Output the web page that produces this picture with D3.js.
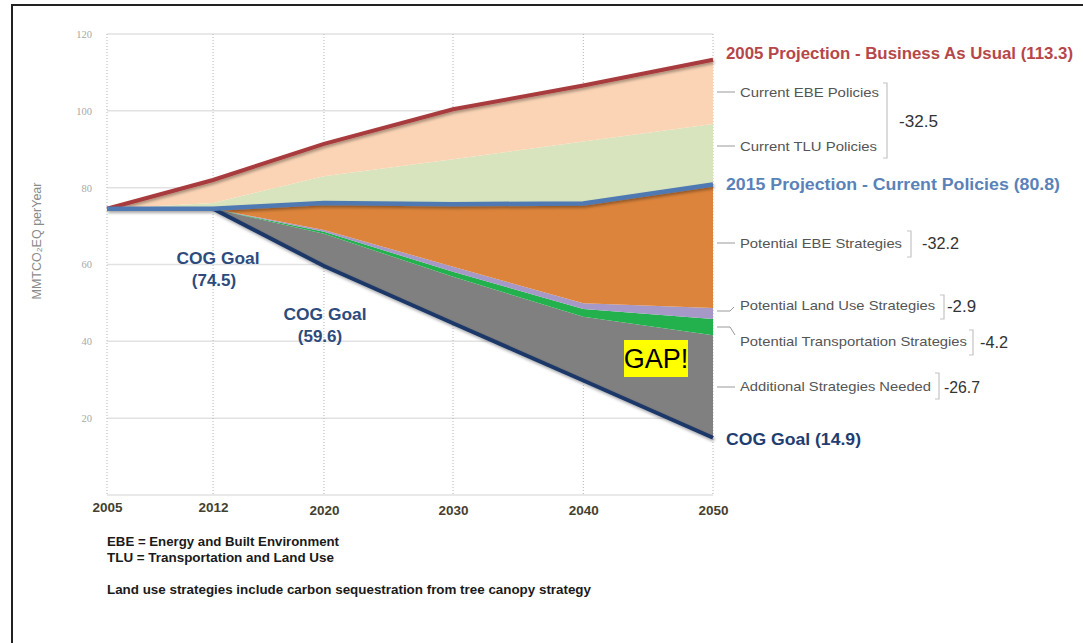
<!DOCTYPE html>
<html><head><meta charset="utf-8">
<script src="https://cdn.jsdelivr.net/npm/d3@7"></script>
<style>body{margin:0;background:#fff;} svg{display:block;}</style>
</head><body>
<svg id="c" width="1083" height="643"></svg>
<script>
// ---------- data ----------
const years = [2005, 2012, 2020, 2030, 2040, 2050];
const yearTickLabels = ["2005", "2012", "2020", "2030", "2040", "2050"];
const yTicks = [20, 40, 60, 80, 100, 120];

// lines
const businessAsUsual = [74.5, 82.0, 91.4, 100.4, 106.6, 113.3];
const currentPolicies = [74.5, 74.5, 76.0, 75.7, 75.9, 80.8];
const cogGoal = [null, 74.5, 59.6, 44.7, 29.8, 14.9];

// stacked wedges (reductions), bottom to top, starting from the COG goal
const additionalNeeded   = [0, 0, 8.4, 12.1, 16.6, 26.7];
const potentialTransport = [0, 0, 0.5, 1.3, 2.0, 4.2];
const potentialLandUse   = [0, 0, 0.5, 1.3, 1.5, 2.9];
const potentialEBE       = [0, 0, 7.0, 16.3, 26.0, 32.2];
const currentTLU         = [0, 1.5, 7.0, 11.7, 16.1, 15.7];
const currentEBE         = [0, 6.0, 8.4, 13.0, 14.6, 16.7];

const layerNames  = ["Additional Strategies Needed", "Potential Transportation Strategies", "Potential Land Use Strategies", "Potential EBE Strategies", "Current TLU Policies", "Current EBE Policies"];
const layerValues = [additionalNeeded, potentialTransport, potentialLandUse, potentialEBE, currentTLU, currentEBE];
const layerColors = ["#808080", "#22b14c", "#a698c7", "#dc843b", "#d8e4bd", "#fbd4b5"];

// ---------- layout ----------
const svg = d3.select("#c");
const L = 107, R = 713, T = 34, B = 495;
const xFrac = [0, 0.175, 0.358, 0.571, 0.786, 1];
const x = d3.scaleLinear().domain(years).range(xFrac.map(f => L + f * (R - L)));
const y = d3.scaleLinear().domain([0, 120]).range([B, T]);

// frame
svg.append("rect").attr("x", 12).attr("y", 5).attr("width", 1100).attr("height", 700)
  .attr("fill", "none").attr("stroke", "#222").attr("stroke-width", 2);

const defs = svg.append("defs");
const f = defs.append("filter").attr("id", "sh").attr("x", "-5%").attr("y", "-20%").attr("width", "110%").attr("height", "140%");
f.append("feDropShadow").attr("dx", 1).attr("dy", 2).attr("stdDeviation", 1.5).attr("flood-color", "#000").attr("flood-opacity", 0.35);

// gridlines
const grid = svg.append("g");
grid.selectAll(".hg").data([0].concat(yTicks)).join("line")
  .attr("x1", L).attr("x2", R).attr("y1", d => y(d)).attr("y2", d => y(d))
  .attr("stroke", "#e2e2e2").attr("stroke-width", 1.5);
grid.selectAll(".vg").data(years).join("line")
  .attr("x1", d => x(d)).attr("x2", d => x(d)).attr("y1", T).attr("y2", B)
  .attr("stroke", "#b5b5b5").attr("stroke-width", 1).attr("stroke-dasharray", "1,2");

// y axis labels
const yAxis = d3.axisLeft(y).tickValues(yTicks).tickSize(0).tickPadding(0);
const ya = svg.append("g").attr("transform", `translate(${92},0)`).call(yAxis);
ya.select(".domain").remove();
ya.selectAll("text").attr("fill", "#a8a8a8").attr("font-family", "Liberation Serif, serif").attr("font-size", 10.5);

svg.append("text").attr("transform", "translate(37,241) rotate(-90)")
  .attr("text-anchor", "middle").attr("dominant-baseline", "central").attr("fill", "#8a8a8a")
  .attr("font-family", "Liberation Sans, Arial, sans-serif").attr("font-size", 12.5)
  .text("MMTCO₂EQ perYear");

// x axis labels
const xAxis = d3.axisBottom(x).tickValues(years).tickFormat((d, i) => yearTickLabels[i]).tickSize(0).tickPadding(0);
const xa = svg.append("g").attr("transform", `translate(0,${B})`).call(xAxis);
xa.select(".domain").remove();
xa.selectAll("text").attr("fill", "#453f30").attr("font-family", "Liberation Sans Narrow, Liberation Sans, sans-serif")
  .attr("font-weight", "bold").attr("font-size", 13.5)
  .attr("y", (d, i) => i < 2 ? 12 : 15.5).attr("dy", 0).attr("dominant-baseline", "central");

// stacked areas
const base = years.map((yr, i) => cogGoal[i] != null ? cogGoal[i] : currentPolicies[i]);
let lower = base.slice();
const layers = layerValues.map(vals => {
  const lo = lower.slice();
  const hi = lo.map((v, i) => v + vals[i]);
  lower = hi;
  return years.map((yr, i) => ({ yr, lo: lo[i], hi: hi[i] }));
});
const area = d3.area().x(d => x(d.yr)).y0(d => y(d.lo)).y1(d => y(d.hi));
svg.append("g").selectAll("path").data(layers).join("path")
  .attr("d", area).attr("fill", (d, i) => layerColors[i]);

// lines
const line = d3.line().defined(d => d.v != null).x(d => x(d.yr)).y(d => y(d.v));
const toPts = arr => years.map((yr, i) => ({ yr, v: arr[i] }));
const lg = svg.append("g").attr("filter", "url(#sh)");
lg.append("path").attr("d", line(toPts(cogGoal))).attr("fill", "none").attr("stroke", "#1c3868").attr("stroke-width", 4);
lg.append("path").attr("d", line(toPts(businessAsUsual))).attr("fill", "none").attr("stroke", "#a83b3d").attr("stroke-width", 4);
lg.append("path").attr("d", line(toPts(currentPolicies))).attr("fill", "none").attr("stroke", "#4f79b2").attr("stroke-width", 4.5);

// ---------- annotations ----------
const SANS = "Liberation Sans, Arial, Helvetica, sans-serif";
function txt(xp, yp, s, opts) {
  const t = svg.append("text").attr("x", xp).attr("y", yp).attr("dominant-baseline", "central")
    .attr("font-family", opts.family || SANS).attr("font-size", opts.size || 13)
    .attr("font-weight", opts.weight || "normal").attr("fill", opts.fill || "#555")
    .attr("text-anchor", opts.anchor || "start").text(s);
  if (opts.len) t.attr("textLength", opts.len).attr("lengthAdjust", "spacingAndGlyphs");
  return t;
}
const lastIdx = years.length - 1;

txt(726, y(businessAsUsual[lastIdx]) - 6, "2005 Projection - Business As Usual (" + businessAsUsual[lastIdx] + ")", { size: 16, weight: 600, fill: "#b5474a", len: 347 });
txt(726, y(currentPolicies[lastIdx]), "2015 Projection - Current Policies (" + currentPolicies[lastIdx] + ")", { size: 16, weight: 600, fill: "#5a82b8", len: 334 });
txt(726, y(cogGoal[lastIdx]) + 2, "COG Goal (" + cogGoal[lastIdx] + ")", { size: 17, weight: 600, fill: "#1f3d70", len: 135 });

// left COG goal labels
txt(218, 258, "COG Goal", { size: 17, weight: 600, fill: "#2d4b7c", anchor: "middle", len: 83 });
txt(214, 280, "(" + cogGoal[1] + ")", { size: 17, weight: 600, fill: "#2d4b7c", anchor: "middle" });
txt(325, 314, "COG Goal", { size: 17, weight: 600, fill: "#2d4b7c", anchor: "middle", len: 83 });
txt(320, 336, "(" + cogGoal[2] + ")", { size: 17, weight: 600, fill: "#2d4b7c", anchor: "middle" });

// side labels with leaders
const sideLabels = [
  { name: "Current EBE Policies", y: 92, len: 139, leader: "M717,92H735" },
  { name: "Current TLU Policies", y: 146, len: 137, leader: "M717,146H735" },
  { name: "Potential EBE Strategies", y: 243, len: 162, leader: "M717,243H735" },
  { name: "Potential Land Use Strategies", y: 305, len: 195, leader: "M717,311H730L734,307" },
  { name: "Potential Transportation Strategies", y: 341, len: 227, leader: "M717,327H730L735,335" },
  { name: "Additional Strategies Needed", y: 386, len: 191, leader: "M717,387H735" }
];
sideLabels.forEach(s => {
  svg.append("path").attr("d", s.leader).attr("fill", "none").attr("stroke", "#9a9a9a").attr("stroke-width", 1);
  txt(740, s.y, s.name, { size: 13, fill: "#555", len: s.len });
});

// brackets + totals
const brackets = [
  { x: 887, y1: 83, y2: 158, label: "-32.5", lx: 899, ly: 121, len: 39 },
  { x: 911, y1: 231, y2: 257, label: "-" + potentialEBE[lastIdx], lx: 922, ly: 243, len: 37 },
  { x: 944, y1: 295, y2: 319, label: "-" + potentialLandUse[lastIdx], lx: 947, ly: 306, len: 29 },
  { x: 973, y1: 330, y2: 355, label: "-" + potentialTransport[lastIdx], lx: 980, ly: 342, len: 28 },
  { x: 939, y1: 373, y2: 399, label: "-" + additionalNeeded[lastIdx], lx: 944, ly: 387, len: 36 }
];
brackets.forEach(b => {
  svg.append("path").attr("d", `M${b.x - 4},${b.y1}H${b.x}V${b.y2}H${b.x - 4}`)
    .attr("fill", "none").attr("stroke", "#c4c4c4").attr("stroke-width", 1.2);
  txt(b.lx, b.ly, b.label, { size: 17, fill: "#333", len: b.len });
});

// GAP! box
svg.append("rect").attr("x", 624).attr("y", 340).attr("width", 64).attr("height", 37).attr("fill", "#ffff00");
txt(656, 359, "GAP!", { size: 27, fill: "#000", anchor: "middle" });

// notes
const NOTE = "Liberation Sans Narrow, Liberation Sans, sans-serif";
txt(107, 541, "EBE = Energy and Built Environment", { size: 13, weight: "bold", fill: "#1a1a1a", family: NOTE, len: 232 });
txt(107, 557, "TLU = Transportation and Land Use", { size: 13, weight: "bold", fill: "#1a1a1a", family: NOTE, len: 227 });
txt(107, 589, "Land use strategies include carbon sequestration from tree canopy strategy", { size: 13, weight: "bold", fill: "#1a1a1a", family: NOTE, len: 484 });
</script>
</body></html>
